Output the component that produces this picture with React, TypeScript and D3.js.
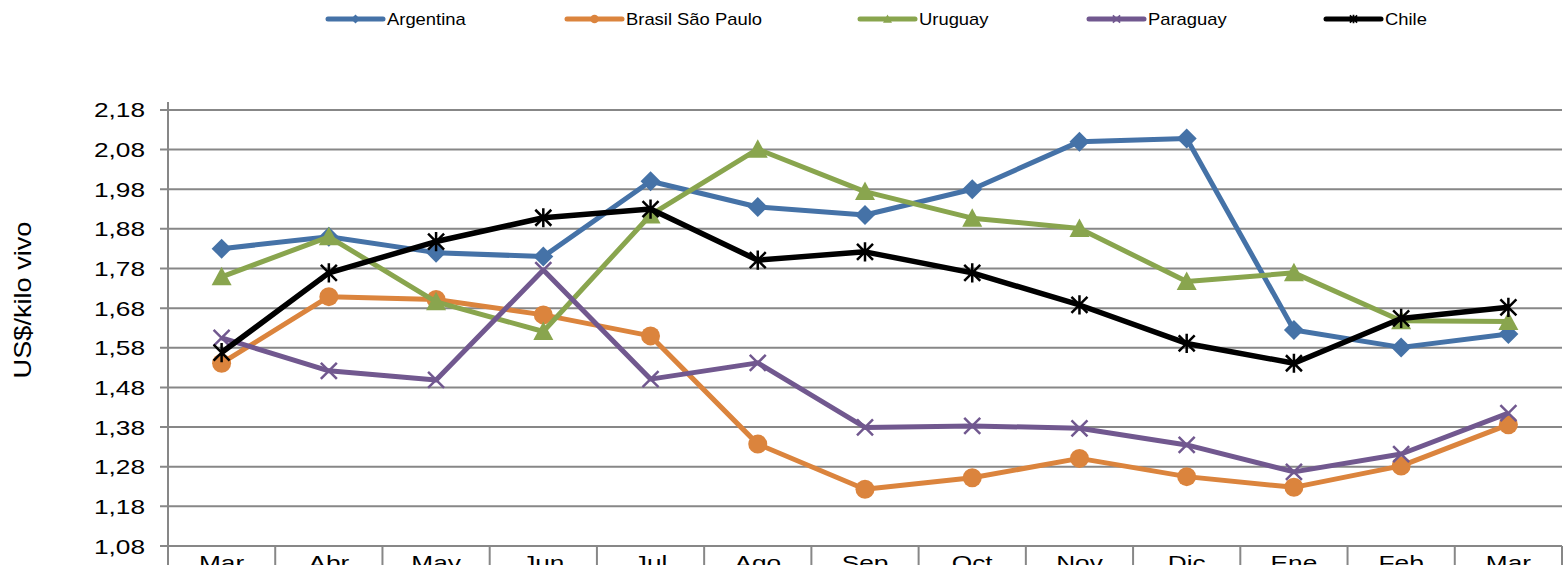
import React from "react";
import { scaleLinear, scaleBand, line, range } from "d3";

// months (Mar to Mar)
const months = ["Mar", "Abr", "May", "Jun", "Jul", "Ago", "Sep", "Oct", "Nov", "Dic", "Ene", "Feb", "Mar"];

const argentina = [1.83, 1.86, 1.82, 1.81, 2.0, 1.935, 1.915, 1.98, 2.1, 2.108, 1.625, 1.581, 1.615];
const brasil = [1.541, 1.709, 1.702, 1.663, 1.61, 1.337, 1.223, 1.252, 1.301, 1.255, 1.228, 1.282, 1.386];
const uruguay = [1.759, 1.86, 1.696, 1.621, 1.915, 2.081, 1.974, 1.907, 1.881, 1.747, 1.769, 1.648, 1.646];
const paraguay = [1.605, 1.522, 1.499, 1.776, 1.501, 1.542, 1.379, 1.383, 1.377, 1.335, 1.267, 1.312, 1.415];
const chile = [1.568, 1.769, 1.848, 1.908, 1.93, 1.801, 1.822, 1.769, 1.688, 1.591, 1.541, 1.654, 1.682];

const yTicks = [1.08, 1.18, 1.28, 1.38, 1.48, 1.58, 1.68, 1.78, 1.88, 1.98, 2.08, 2.18];

const series = [
  { name: "Argentina", values: argentina, color: "#4572A7", marker: "diamond" },
  { name: "Brasil São Paulo", values: brasil, color: "#DB843D", marker: "circle" },
  { name: "Uruguay", values: uruguay, color: "#89A54E", marker: "triangle" },
  { name: "Paraguay", values: paraguay, color: "#71588F", marker: "x" },
  { name: "Chile", values: chile, color: "#000000", marker: "star" },
];

const legendX = [328, 567, 860, 1089, 1326];

const W = 1564;
const H = 565;
const left = 168;
const right = 1562;
const top = 102;
const bottom = 546;
const font = "'Liberation Sans', Arial, sans-serif";
const gridColor = "#878787";

function Marker({ type, color, s = 1 }) {
  if (type === "diamond") {
    const r = 10 * s;
    return <path d={`M0,${-r}L${r},0L0,${r}L${-r},0Z`} fill={color} />;
  }
  if (type === "circle") return <circle r={9.5 * s} fill={color} />;
  if (type === "triangle") {
    const r = 10 * s;
    return <path d={`M0,${-r}L${r},${r * 0.85}L${-r},${r * 0.85}Z`} fill={color} />;
  }
  const r = 8 * s;
  const sw = 2.5 * Math.max(s, 0.7);
  if (type === "x")
    return <path d={`M${-r},${-r}L${r},${r}M${-r},${r}L${r},${-r}`} stroke={color} strokeWidth={sw} />;
  return (
    <path
      d={`M${-r},${-r}L${r},${r}M${-r},${r}L${r},${-r}M0,${-r * 1.2}L0,${r * 1.2}`}
      stroke={color}
      strokeWidth={sw}
    />
  );
}

function SText({ x, y, sx = 1, size, anchor = "start", rotate = 0, children }) {
  return (
    <text
      transform={`translate(${x},${y}) rotate(${rotate}) scale(${sx},1)`}
      fontSize={size}
      fontFamily={font}
      textAnchor={anchor}
      fill="#000"
    >
      {children}
    </text>
  );
}

export default function App() {
  const x = scaleBand<number>().domain(range(months.length)).range([left, right]).padding(0);
  const y = scaleLinear().domain([1.08, 2.2]).range([bottom, top]);
  const cx = (i: number) => x(i)! + x.bandwidth() / 2;

  const lineGen = line<number>()
    .x((d, i) => cx(i))
    .y((d) => y(d));

  return (
    <div style={{ position: "absolute", left: 0, top: 0 }}>
      <svg width={W} height={H} style={{ display: "block", background: "#fff" }}>
        {/* gridlines */}
        {yTicks.map((t) => (
          <g key={t}>
            <line x1={left - 8} x2={right} y1={y(t)} y2={y(t)} stroke={gridColor} strokeWidth={2} />
            <SText x={145} y={y(t) + 7.5} sx={1.25} size={21} anchor="end">
              {t.toFixed(2).replace(".", ",")}
            </SText>
          </g>
        ))}
        {/* y axis */}
        <line x1={left} x2={left} y1={top} y2={bottom} stroke={gridColor} strokeWidth={2} />
        {/* category boundaries */}
        {range(months.length + 1).map((i) => {
          const xx = i < months.length ? x(i)! : right;
          return <line key={i} x1={xx} x2={xx} y1={bottom} y2={H + 5} stroke={gridColor} strokeWidth={2} />;
        })}
        {months.map((m, i) => (
          <SText key={i} x={cx(i)} y={570} sx={1.25} size={21} anchor="middle">
            {m}
          </SText>
        ))}
        <SText x={31} y={300} sx={1.18} size={23} anchor="middle" rotate={-90}>
          US$/kilo vivo
        </SText>

        {/* series */}
        {series.map((s) => (
          <g key={s.name}>
            <path d={lineGen(s.values)!} fill="none" stroke={s.color} strokeWidth={s.marker === "star" ? 5.5 : 5} strokeLinejoin="round" />
            {s.values.map((v, i) => (
              <g key={i} transform={`translate(${cx(i)},${y(v)})`}>
                <Marker type={s.marker} color={s.color} />
              </g>
            ))}
          </g>
        ))}

        {/* legend */}
        {series.map((s, i) => (
          <g key={s.name} transform={`translate(${legendX[i]},19)`}>
            <line x1={0} x2={55} y1={0} y2={0} stroke={s.color} strokeWidth={5} strokeLinecap="round" />
            <g transform="translate(27.5,0)">
              <Marker type={s.marker} color={s.color} s={0.45} />
            </g>
            <SText x={59} y={6} sx={1.15} size={16}>
              {s.name}
            </SText>
          </g>
        ))}
      </svg>
    </div>
  );
}
